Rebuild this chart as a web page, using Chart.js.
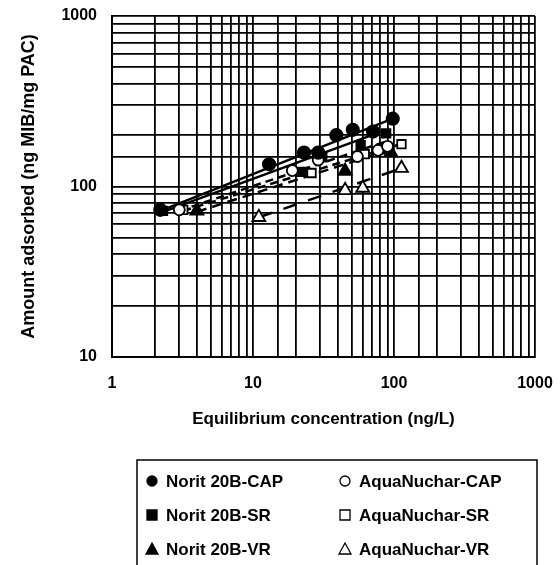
<!DOCTYPE html>
<html>
<head>
<meta charset="utf-8">
<script src="https://cdn.jsdelivr.net/npm/chart.js@4"></script>
<style>
  html, body { margin: 0; padding: 0; background: #fff; }
  #wrap { width: 560px; height: 565px; }
</style>
</head>
<body>
<div id="wrap"><canvas id="c" width="560" height="565"></canvas></div>
<script>
// values (x = ng/L, y = ng MIB/mg PAC)
const noritCapX = [2.2, 13, 23, 29, 39, 51, 71, 98];
const noritCapY = [73, 135, 158, 158, 200, 215, 210, 250];
const noritSrX = [2.3, 22.6, 31, 58, 88];
const noritSrY = [72, 122, 148, 175, 205];
const noritVrX = [4.0, 45, 95];
const noritVrY = [72, 123, 158];
const aquaCapX = [3.0, 19, 29, 55, 77, 90];
const aquaCapY = [73, 124, 143, 150, 163, 172];
const aquaSrX = [3.2, 26, 62, 80, 113];
const aquaSrY = [73, 120, 155, 165, 177];
const aquaVrX = [11, 45, 60, 113];
const aquaVrY = [66, 95, 98, 128];

// fitted lines (end points)
const fitNoritCapX = [2.2, 98], fitNoritCapY = [72, 250];
const fitNoritSrX = [2.3, 88], fitNoritSrY = [71, 215];
const fitAquaCapX = [3.0, 90], fitAquaCapY = [72, 185];
const fitAquaSrX = [3.2, 113], fitAquaSrY = [72, 178];
const fitNoritVrX = [4.0, 95], fitNoritVrY = [71, 165];
const fitAquaVrX = [11, 113], fitAquaVrY = [66, 128];

const xTicks = [1, 10, 100, 1000];
const yTicks = [10, 100, 1000];

const FONT = "'Liberation Sans', Arial, sans-serif";
const toPts = (xs, ys) => xs.map((x, i) => ({ x: x, y: ys[i] }));

function fitLine(xs, ys, dash) {
  return {
    label: "",
    data: toPts(xs, ys),
    showLine: true,
    borderColor: "#000",
    borderWidth: 2.5,
    borderDash: dash,
    pointRadius: 0,
    order: 2,
  };
}

function marks(label, xs, ys, style, filled, r) {
  return {
    label: label,
    data: toPts(xs, ys),
    showLine: false,
    pointStyle: style,
    pointRadius: r,
    backgroundColor: filled ? "#000" : "#fff",
    borderColor: "#000",
    borderWidth: 1.8,
    order: 1,
  };
}

const series = [
  marks("Norit 20B-CAP", noritCapX, noritCapY, "circle", true, 6.2),
  marks("AquaNuchar-CAP", aquaCapX, aquaCapY, "circle", false, 5.5),
  marks("Norit 20B-SR", noritSrX, noritSrY, "rect", true, 6),
  marks("AquaNuchar-SR", aquaSrX, aquaSrY, "rect", false, 6),
  marks("Norit 20B-VR", noritVrX, noritVrY, "triangle", true, 7.5),
  marks("AquaNuchar-VR", aquaVrX, aquaVrY, "triangle", false, 7.5),
];

const lines = [
  fitLine(fitNoritCapX, fitNoritCapY, []),
  fitLine(fitNoritSrX, fitNoritSrY, []),
  fitLine(fitAquaCapX, fitAquaCapY, [8, 5]),
  fitLine(fitAquaSrX, fitAquaSrY, [8, 5]),
  fitLine(fitNoritVrX, fitNoritVrY, [10, 6]),
  fitLine(fitAquaVrX, fitAquaVrY, [14, 12]),
];

// legend drawn by hand: two columns in a box under the chart
const boxLegend = {
  id: "boxLegend",
  afterDraw(chart) {
    const ctx = chart.ctx;
    ctx.save();
    ctx.strokeStyle = "#000";
    ctx.lineWidth = 1.5;
    ctx.strokeRect(137, 460, 400, 110);
    ctx.font = "bold 17px " + FONT;
    ctx.textBaseline = "middle";
    const colX = [152, 345];
    const rowY = [481, 515, 549];
    series.forEach((ds, i) => {
      const cx = colX[i % 2];
      const cy = rowY[Math.floor(i / 2)];
      ctx.beginPath();
      if (ds.pointStyle === "circle") {
        ctx.arc(cx, cy, 5, 0, Math.PI * 2);
      } else if (ds.pointStyle === "rect") {
        ctx.rect(cx - 5, cy - 5, 10, 10);
      } else {
        ctx.moveTo(cx, cy - 6);
        ctx.lineTo(cx + 6, cy + 5);
        ctx.lineTo(cx - 6, cy + 5);
        ctx.closePath();
      }
      ctx.fillStyle = ds.backgroundColor;
      ctx.fill();
      ctx.lineWidth = 1.3;
      ctx.stroke();
      ctx.fillStyle = "#000";
      ctx.fillText(ds.label, cx + 14, cy + 1);
    });
    ctx.restore();
  },
};

const tickFont = { family: FONT, size: 16, weight: "bold" };
const titleFont = { family: FONT, size: 17, weight: "bold" };

new Chart(document.getElementById("c"), {
  type: "scatter",
  data: { datasets: lines.concat(series) },
  options: {
    responsive: false,
    animation: false,
    layout: { padding: { left: 0, right: 25, top: 16, bottom: 135 } },
    plugins: { legend: { display: false }, tooltip: { enabled: false } },
    scales: {
      x: {
        type: "logarithmic",
        min: 1,
        max: 1000,
        afterFit: (s) => {
          s.height = 73;
          s.paddingLeft = 0;
          s.paddingRight = 0;
        },
        grid: { color: "#000", lineWidth: 1.8, drawTicks: false },
        border: { color: "#000", width: 2 },
        ticks: {
          autoSkip: false,
          maxRotation: 0,
          padding: 17,
          color: "#000",
          font: tickFont,
          callback: (v) => (xTicks.includes(v) ? String(v) : ""),
        },
        title: {
          display: true,
          text: "Equilibrium concentration (ng/L)",
          color: "#000",
          font: titleFont,
          padding: { top: 0, bottom: 0 },
        },
      },
      y: {
        type: "logarithmic",
        min: 10,
        max: 1000,
        afterFit: (s) => {
          s.width = 112;
          s.paddingTop = 0;
          s.paddingBottom = 0;
        },
        grid: { color: "#000", lineWidth: 1.8, drawTicks: false },
        border: { color: "#000", width: 2 },
        ticks: {
          autoSkip: false,
          padding: 15,
          color: "#000",
          font: tickFont,
          callback: (v) => (yTicks.includes(v) ? String(v) : ""),
        },
        title: {
          display: true,
          text: "Amount adsorbed (ng MIB/mg PAC)",
          color: "#000",
          font: { family: FONT, size: 18, weight: "bold" },
          padding: { top: 18, bottom: 0 },
        },
      },
    },
  },
  plugins: [boxLegend],
});
</script>
</body>
</html>
